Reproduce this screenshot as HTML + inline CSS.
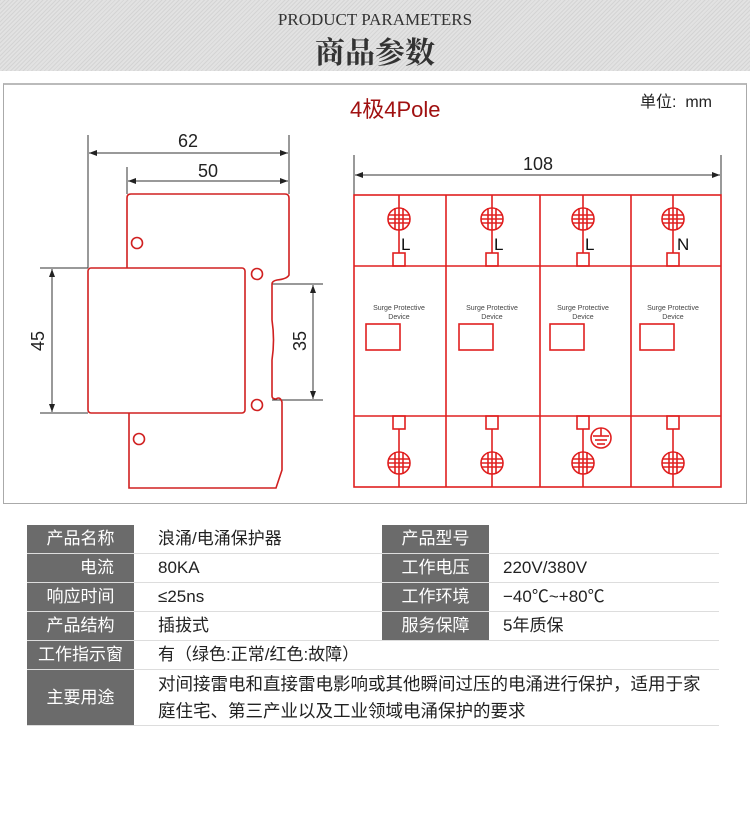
<!DOCTYPE html>
<html><head><meta charset="utf-8"><style>
body{margin:0;width:750px;height:830px;background:#fff;position:relative;overflow:hidden;font-family:"Liberation Sans","Noto Sans CJK SC",sans-serif}
.hdr{position:absolute;left:0;top:0;width:750px;height:71px;background:repeating-linear-gradient(135deg,#d4d4d4 0 1px,#e2e2e2 1px 3px)}
.t1{position:absolute;top:10px;width:750px;text-align:center;font:17px "Liberation Serif",serif;color:#333}
.t2{position:absolute;top:28px;width:750px;text-align:center;font:bold 30px "Noto Serif CJK SC","Noto Sans CJK SC",sans-serif;color:#333}
.panel{position:absolute;left:3px;top:83px;width:742px;height:418px;border:1px solid #aaa;border-top:2px solid #bbb}
table{position:absolute;left:27px;top:525px;border-collapse:collapse;width:692px;font-size:17px}
td{border-bottom:1px solid #ddd;padding:0 0 0 24px;height:28px;color:#222;vertical-align:middle;line-height:20px}
td.l{background:#6b6b6b;color:#fff;text-align:center;padding:0;width:107px}
</style></head><body>
<div class="hdr"></div>
<div class="t1">PRODUCT PARAMETERS</div>
<div class="t2">商品参数</div>
<div class="panel"></div>
<div style="position:absolute;left:350px;top:92px;font-size:22px;color:#a01010">4极4Pole</div>
<div style="position:absolute;left:640px;top:88px;font-size:16px;color:#222">单位:&nbsp; mm</div>
<svg width="750" height="830" style="position:absolute;left:0;top:0">
<defs><marker id="a" markerWidth="8" markerHeight="6" refX="8" refY="3" orient="auto-start-reverse"><path d="M0,0L8,3L0,6z" fill="#222"/></marker></defs>
<g stroke="#333" stroke-width="1" fill="none">
<line x1="88" y1="135" x2="88" y2="268"/><line x1="289" y1="135" x2="289" y2="194"/><line x1="127" y1="167" x2="127" y2="194"/>
<line x1="89" y1="153" x2="288" y2="153" marker-start="url(#a)" marker-end="url(#a)"/>
<line x1="128" y1="181" x2="288" y2="181" marker-start="url(#a)" marker-end="url(#a)"/>
<line x1="40" y1="268" x2="88" y2="268"/><line x1="40" y1="413" x2="88" y2="413"/>
<line x1="52" y1="269" x2="52" y2="412" marker-start="url(#a)" marker-end="url(#a)"/>
<line x1="272" y1="284" x2="323" y2="284"/><line x1="272" y1="400" x2="323" y2="400"/>
<line x1="313" y1="285" x2="313" y2="399" marker-start="url(#a)" marker-end="url(#a)"/>
<line x1="354" y1="155" x2="354" y2="195"/><line x1="721" y1="155" x2="721" y2="195"/>
<line x1="355" y1="175" x2="720" y2="175" marker-start="url(#a)" marker-end="url(#a)"/>
</g>
<g font-size="18" fill="#222" font-family="Liberation Sans">
<text x="188" y="147" text-anchor="middle">62</text><text x="208" y="177" text-anchor="middle">50</text>
<text x="538" y="170" text-anchor="middle">108</text>
<text transform="translate(44,341) rotate(-90)" text-anchor="middle">45</text>
<text transform="translate(306,341) rotate(-90)" text-anchor="middle">35</text>
</g>
<g stroke="#d02020" stroke-width="1.6" fill="none">
<path d="M127,268V198q0,-4 4,-4H285q4,0 4,4V275q-2,4 -12,5q-5,1 -5,4V320q3,20 0,40V396q0,3 4,3q4,-3 6,3V470L276,488H129V413"/>
<rect x="88" y="268" width="157" height="145" rx="3"/>
<circle cx="137" cy="243" r="5.5"/><circle cx="257" cy="274" r="5.5"/><circle cx="257" cy="405" r="5.5"/><circle cx="139" cy="439" r="5.5"/>
</g>
<g stroke="#e02020" stroke-width="1.6" fill="none">
<rect x="354" y="195" width="367" height="292"/>
<line x1="446" y1="195" x2="446" y2="487"/><line x1="540" y1="195" x2="540" y2="487"/><line x1="631" y1="195" x2="631" y2="487"/>
<line x1="354" y1="266" x2="721" y2="266"/><line x1="354" y1="416" x2="721" y2="416"/>
<g id="c">
<line x1="399" y1="195" x2="399" y2="253"/><circle cx="399" cy="219" r="11"/><line x1="388" y1="219" x2="410" y2="219"/><line x1="388" y1="215" x2="410" y2="215"/><line x1="388" y1="223" x2="410" y2="223"/><line x1="395" y1="208" x2="395" y2="230"/><line x1="403" y1="208" x2="403" y2="230"/>
<rect x="393" y="253" width="12" height="13"/>
<rect x="366" y="324" width="34" height="26"/>
<rect x="393" y="416" width="12" height="13"/>
<line x1="399" y1="429" x2="399" y2="487"/><circle cx="399" cy="463" r="11"/><line x1="388" y1="463" x2="410" y2="463"/><line x1="388" y1="459" x2="410" y2="459"/><line x1="388" y1="467" x2="410" y2="467"/><line x1="395" y1="452" x2="395" y2="474"/><line x1="403" y1="452" x2="403" y2="474"/>
</g>
<use href="#c" x="93"/><use href="#c" x="184"/><use href="#c" x="274"/>
<circle cx="601" cy="438" r="10"/><line x1="593" y1="436" x2="609" y2="436"/><line x1="595" y1="440" x2="607" y2="440"/><line x1="597" y1="444" x2="605" y2="444"/><line x1="601" y1="428" x2="601" y2="436"/>
</g>
<g font-size="17" fill="#111"><text x="401" y="250">L</text><text x="494" y="250">L</text><text x="585" y="250">L</text><text x="677" y="250">N</text></g>
<g font-size="7" fill="#444" text-anchor="middle">
<text x="399" y="310">Surge Protective</text><text x="399" y="319">Device</text>
<text x="492" y="310">Surge Protective</text><text x="492" y="319">Device</text>
<text x="583" y="310">Surge Protective</text><text x="583" y="319">Device</text>
<text x="673" y="310">Surge Protective</text><text x="673" y="319">Device</text>
</g>
</svg>
<table>
<tr><td class="l">产品名称</td><td style="width:224px">浪涌/电涌保护器</td><td class="l" style="width:102px">产品型号</td><td style="padding-left:12px"></td></tr>
<tr><td class="l" style="text-align:right;padding-right:20px;width:87px">电流</td><td>80KA</td><td class="l">工作电压</td><td style="padding-left:14px">220V/380V</td></tr>
<tr><td class="l">响应时间</td><td>≤25ns</td><td class="l">工作环境</td><td style="padding-left:14px">−40℃~+80℃</td></tr>
<tr><td class="l">产品结构</td><td>插拔式</td><td class="l">服务保障</td><td style="padding-left:14px">5年质保</td></tr>
<tr><td class="l">工作指示窗</td><td colspan="3">有（绿色:正常/红色:故障）</td></tr>
<tr><td class="l" style="height:55px">主要用途</td><td colspan="3" style="line-height:27px;padding-left:24px;font-size:17.5px;white-space:nowrap">对间接雷电和直接雷电影响或其他瞬间过压的电涌进行保护，适用于家<br>庭住宅、第三产业以及工业领域电涌保护的要求</td></tr>
</table>
</body></html>
